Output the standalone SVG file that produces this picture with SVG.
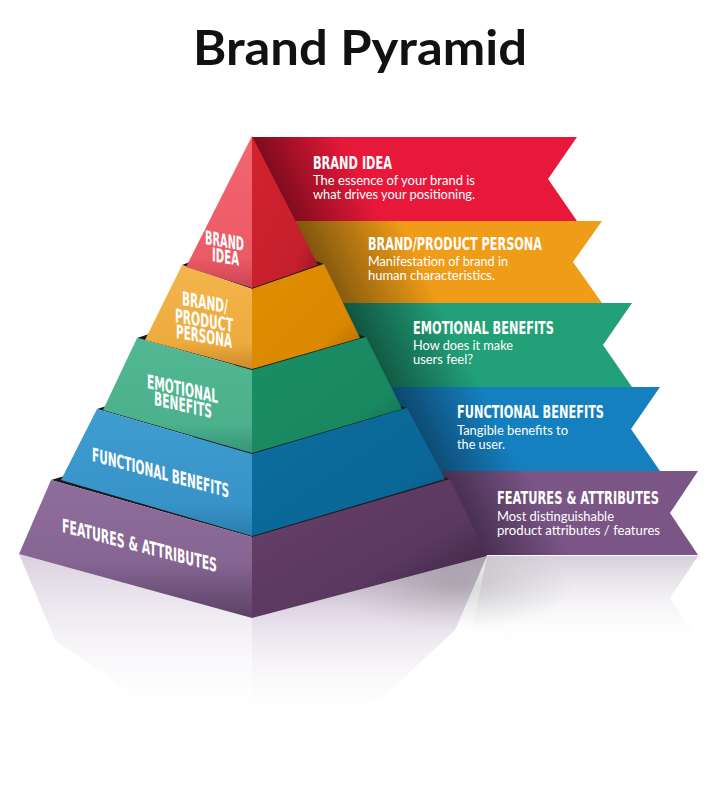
<svg xmlns="http://www.w3.org/2000/svg" width="707" height="801" viewBox="0 0 707 801">
<defs>
<style>
.title{font-family:Lato,"Open Sans","Liberation Sans",sans-serif;font-weight:700;font-size:48px;fill:#111}
.hd{font-family:"Liberation Sans Narrow","DejaVu Sans Condensed","Liberation Sans",sans-serif;font-weight:700;font-size:17px;fill:#fff}
.bd{font-family:Lato,"Open Sans","Liberation Sans",sans-serif;font-size:12.5px;fill:#fff}
.pl{font-family:"Liberation Sans Narrow","DejaVu Sans Condensed","Liberation Sans",sans-serif;font-weight:700;font-size:19px;fill:#fff}
.top{fill:#1b1b1b}
</style>
<linearGradient id="lRed" x1="0" y1="0" x2="0" y2="1"><stop offset="0" stop-color="#f3666f"/><stop offset="0.8" stop-color="#ec5a66"/><stop offset="1" stop-color="#c94452"/></linearGradient>
<linearGradient id="rRed" x1="0" y1="0" x2="1" y2="1"><stop offset="0" stop-color="#d3222f"/><stop offset="0.75" stop-color="#c51f2d"/><stop offset="1" stop-color="#8e1422"/></linearGradient>
<linearGradient id="lOr" x1="0" y1="0" x2="0" y2="1"><stop offset="0" stop-color="#f3b54c"/><stop offset="0.75" stop-color="#eeab3e"/><stop offset="1" stop-color="#c98a2a"/></linearGradient>
<linearGradient id="rOr" x1="0" y1="0" x2="1" y2="1"><stop offset="0" stop-color="#e08e00"/><stop offset="0.7" stop-color="#da8800"/><stop offset="1" stop-color="#a86400"/></linearGradient>
<linearGradient id="lGr" x1="0" y1="0" x2="0" y2="1"><stop offset="0" stop-color="#52b893"/><stop offset="0.75" stop-color="#4bb08c"/><stop offset="1" stop-color="#37957a"/></linearGradient>
<linearGradient id="rGr" x1="0" y1="0" x2="1" y2="1"><stop offset="0" stop-color="#1b8e65"/><stop offset="0.7" stop-color="#188860"/><stop offset="1" stop-color="#0d6446"/></linearGradient>
<linearGradient id="lBl" x1="0" y1="0" x2="0" y2="1"><stop offset="0" stop-color="#3e9dd0"/><stop offset="0.75" stop-color="#3893c8"/><stop offset="1" stop-color="#2a7cae"/></linearGradient>
<linearGradient id="rBl" x1="0" y1="0" x2="1" y2="1"><stop offset="0" stop-color="#0c6e9f"/><stop offset="0.7" stop-color="#0a6696"/><stop offset="1" stop-color="#06507a"/></linearGradient>
<linearGradient id="lPu" x1="0" y1="0" x2="0" y2="1"><stop offset="0" stop-color="#8f6e9b"/><stop offset="0.6" stop-color="#866592"/><stop offset="1" stop-color="#5c4266"/></linearGradient>
<linearGradient id="rPu" x1="0" y1="0" x2="1" y2="1"><stop offset="0" stop-color="#674069"/><stop offset="0.6" stop-color="#5a3860"/><stop offset="1" stop-color="#2e1b33"/></linearGradient>
<linearGradient id="bRed" gradientUnits="userSpaceOnUse" x1="262" y1="185" x2="345" y2="145"><stop offset="0" stop-color="#6e0a18"/><stop offset="1" stop-color="#e8183a"/></linearGradient>
<linearGradient id="bOr" gradientUnits="userSpaceOnUse" x1="300" y1="268" x2="400" y2="220"><stop offset="0" stop-color="#6e4a0c"/><stop offset="1" stop-color="#ef9c18"/></linearGradient>
<linearGradient id="bGr" gradientUnits="userSpaceOnUse" x1="345" y1="352" x2="440" y2="305"><stop offset="0" stop-color="#0c4434"/><stop offset="1" stop-color="#22a077"/></linearGradient>
<linearGradient id="bBl" gradientUnits="userSpaceOnUse" x1="388" y1="436" x2="482" y2="390"><stop offset="0" stop-color="#0a3656"/><stop offset="1" stop-color="#1580c0"/></linearGradient>
<linearGradient id="bPu" gradientUnits="userSpaceOnUse" x1="432" y1="520" x2="528" y2="472"><stop offset="0" stop-color="#32203a"/><stop offset="1" stop-color="#7a5586"/></linearGradient>
<linearGradient id="refL" gradientUnits="userSpaceOnUse" x1="0" y1="555" x2="0" y2="725"><stop offset="0" stop-color="#c9bcd0" stop-opacity="0.7"/><stop offset="1" stop-color="#ffffff" stop-opacity="0"/></linearGradient>
<linearGradient id="refR" gradientUnits="userSpaceOnUse" x1="0" y1="556" x2="0" y2="725"><stop offset="0" stop-color="#8c7a94" stop-opacity="0.7"/><stop offset="0.35" stop-color="#cbbdd3" stop-opacity="0.55"/><stop offset="1" stop-color="#ffffff" stop-opacity="0"/></linearGradient>
<linearGradient id="refB" gradientUnits="userSpaceOnUse" x1="0" y1="556" x2="0" y2="650"><stop offset="0" stop-color="#a596ac" stop-opacity="0.45"/><stop offset="1" stop-color="#ffffff" stop-opacity="0"/></linearGradient>
<radialGradient id="shd" cx="0.5" cy="0.5" r="0.5"><stop offset="0" stop-color="#666" stop-opacity="0.3"/><stop offset="1" stop-color="#888" stop-opacity="0"/></radialGradient>
</defs>
<rect width="707" height="801" fill="#fff"/>
<text class="title" x="193" y="65" textLength="334" lengthAdjust="spacingAndGlyphs">Brand Pyramid</text>

<g id="reflection">
<polygon points="19,554 252,618 252,725 140,700 55,640" fill="url(#refL)"/>
<polygon points="252,618 487,556 455,630 380,700 252,725" fill="url(#refR)"/>
<polygon points="487,556 698,556 670,598 698,640 470,640" fill="url(#refB)"/>
<ellipse cx="455" cy="585" rx="120" ry="45" fill="url(#shd)"/>
</g>

<g id="connectors"/>

<g id="tier-features">
<polygon points="252,471 698,471 670,513 698,555 252,555" fill="url(#bPu)"/>
<polygon class="top" points="51,480 252,537 450,479 252,420"/>
<polygon points="51,480 252,537 252,618 19,554" fill="url(#lPu)"/>
<polygon points="252,537 450,479 487,556 252,618" fill="url(#rPu)"/>
<text class="pl" transform="translate(62,532) skewY(14.5)" textLength="155" lengthAdjust="spacingAndGlyphs">FEATURES &amp; ATTRIBUTES</text>
<text class="hd" x="497" y="504" textLength="162" lengthAdjust="spacingAndGlyphs">FEATURES &amp; ATTRIBUTES</text>
<text class="bd" x="497" y="521" textLength="117" lengthAdjust="spacingAndGlyphs">Most distinguishable</text>
<text class="bd" x="497" y="535" textLength="163" lengthAdjust="spacingAndGlyphs">product attributes / features</text>
</g>

<g id="tier-functional">
<polygon points="252,387 660,387 631,429 660,471 252,471" fill="url(#bBl)"/>
<polygon class="top" points="97,409 252,454 407,408 252,360"/>
<polygon points="97,409 252,454 252,536 61,480" fill="url(#lBl)"/>
<polygon points="252,454 407,408 445,479 252,536" fill="url(#rBl)"/>
<text class="pl" transform="translate(92,461) skewY(15)" textLength="137" lengthAdjust="spacingAndGlyphs">FUNCTIONAL BENEFITS</text>
<text class="hd" x="457" y="418" textLength="147" lengthAdjust="spacingAndGlyphs">FUNCTIONAL BENEFITS</text>
<text class="bd" x="457" y="435" textLength="111" lengthAdjust="spacingAndGlyphs">Tangible benefits to</text>
<text class="bd" x="457" y="449" textLength="48" lengthAdjust="spacingAndGlyphs">the user.</text>
</g>

<g id="tier-emotional">
<polygon points="252,303 632,303 603,345 632,387 252,387" fill="url(#bGr)"/>
<polygon class="top" points="137,338 252,370 366,337 252,300"/>
<polygon points="137,338 252,370 252,453 103,410" fill="url(#lGr)"/>
<polygon points="252,370 366,337 402,409 252,453" fill="url(#rGr)"/>
<text class="pl" transform="translate(147,388) skewY(12)" textLength="71" lengthAdjust="spacingAndGlyphs">EMOTIONAL</text>
<text class="pl" transform="translate(154,405) skewY(13)" textLength="58" lengthAdjust="spacingAndGlyphs">BENEFITS</text>
<text class="hd" x="413" y="334" textLength="141" lengthAdjust="spacingAndGlyphs">EMOTIONAL BENEFITS</text>
<text class="bd" x="413" y="350" textLength="100" lengthAdjust="spacingAndGlyphs">How does it make</text>
<text class="bd" x="413" y="364" textLength="60" lengthAdjust="spacingAndGlyphs">users feel?</text>
</g>

<g id="tier-persona">
<polygon points="252,221 602,221 573,262 602,303 252,303" fill="url(#bOr)"/>
<polygon class="top" points="182,265 252,289 324,264 252,238"/>
<polygon points="182,265 252,289 252,369 145,340" fill="url(#lOr)"/>
<polygon points="252,289 324,264 360,338 252,369" fill="url(#rOr)"/>
<text class="pl" transform="translate(182,305) skewY(10)" textLength="46" lengthAdjust="spacingAndGlyphs">BRAND/</text>
<text class="pl" transform="translate(175,322) skewY(10)" textLength="58" lengthAdjust="spacingAndGlyphs">PRODUCT</text>
<text class="pl" transform="translate(176,338) skewY(10)" textLength="56" lengthAdjust="spacingAndGlyphs">PERSONA</text>
<text class="hd" x="368" y="250" textLength="174" lengthAdjust="spacingAndGlyphs">BRAND/PRODUCT PERSONA</text>
<text class="bd" x="368" y="266" textLength="140" lengthAdjust="spacingAndGlyphs">Manifestation of brand in</text>
<text class="bd" x="368" y="280" textLength="127" lengthAdjust="spacingAndGlyphs">human characteristics.</text>
</g>

<g id="tier-brand-idea">
<polygon points="252,137 577,137 548,179 577,221 252,221" fill="url(#bRed)"/>
<polygon points="252,136 252,288 186,267" fill="url(#lRed)"/>
<polygon points="252,136 318,265 252,288" fill="url(#rRed)"/>
<text class="pl" transform="translate(205,244) skewY(10)" textLength="39" lengthAdjust="spacingAndGlyphs">BRAND</text>
<text class="pl" transform="translate(212,261) skewY(10)" textLength="27" lengthAdjust="spacingAndGlyphs">IDEA</text>
<text class="hd" x="313" y="169" textLength="79" lengthAdjust="spacingAndGlyphs">BRAND IDEA</text>
<text class="bd" x="313" y="185" textLength="162" lengthAdjust="spacingAndGlyphs">The essence of your brand is</text>
<text class="bd" x="313" y="199" textLength="162" lengthAdjust="spacingAndGlyphs">what drives your positioning.</text>
</g>
</svg>
